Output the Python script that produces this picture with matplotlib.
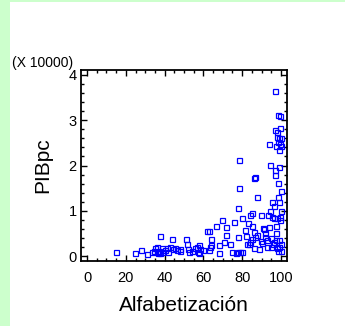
import matplotlib
matplotlib.use('Agg')
import matplotlib.pyplot as plt
from matplotlib.ticker import MultipleLocator
import numpy as np

# Alfabetizacion (%) vs PIB per capita (unidades de 10000)
alfab = [14.7, 24.8, 27.9, 30.7, 33.6, 34.5, 35.0, 35.9, 35.9, 36.6, 37.2, 37.6, 37.8,
         38.8, 38.8, 40.2, 41.0, 41.7, 42.8, 43.8, 44.3, 45.5, 46.2, 47.9, 47.9, 50.9,
         51.7, 51.9, 52.8, 54.0, 55.7, 56.6, 57.4, 57.8, 57.9, 58.3, 60.0, 61.7, 62.8,
         62.9, 63.4, 63.8, 64.0, 66.6, 67.8, 68.1, 69.8, 70.7, 71.7, 71.9, 73.8, 74.8,
         75.9, 76.6, 77.6, 77.8, 77.8, 78.6, 78.6, 79.0, 80.0, 80.0, 81.7, 81.9, 82.6,
         82.8, 83.4, 83.8, 84.1, 84.8, 85.0, 85.2, 85.9, 85.9, 86.0, 86.7, 86.7, 87.6,
         87.8, 88.8, 89.5, 89.5, 90.0, 90.9, 91.0, 91.6, 91.9, 92.8, 93.0, 93.4, 93.6,
         93.9, 94.5, 94.5, 95.0, 95.0, 95.3, 95.5, 95.7, 96.2, 96.6, 96.6, 96.7, 96.9,
         96.9, 96.9, 97.2, 97.2, 97.4, 97.6, 97.8, 97.8, 97.9, 98.1, 98.3, 98.3, 98.4,
         98.6, 98.6, 98.8, 98.8, 98.8, 98.9, 99.1, 99.1, 99.3, 99.3, 99.5, 99.7, 99.7,
         99.8, 99.8, 99.8, 100.0, 100.0, 100.0]
pibpc = [0.08, 0.07, 0.14, 0.04, 0.08, 0.12, 0.17, 0.19, 0.08, 0.06, 0.12, 0.45, 0.06,
         0.17, 0.08, 0.13, 0.18, 0.08, 0.20, 0.37, 0.15, 0.18, 0.14, 0.16, 0.10, 0.37,
         0.26, 0.15, 0.08, 0.12, 0.17, 0.21, 0.08, 0.24, 0.06, 0.16, 0.14, 0.55, 0.55,
         0.13, 0.20, 0.37, 0.24, 0.67, 0.24, 0.06, 0.79, 0.31, 0.64, 0.46, 0.26, 0.08,
         0.76, 0.06, 1.07, 0.42, 0.08, 2.12, 1.51, 0.08, 0.08, 0.83, 0.58, 0.44, 0.26,
         0.74, 0.26, 0.91, 0.31, 0.94, 0.67, 0.38, 1.73, 0.52, 0.17, 1.74, 0.41, 0.47,
         1.30, 0.15, 0.90, 0.34, 0.28, 0.63, 0.59, 0.50, 0.42, 0.21, 0.35, 0.90, 2.48,
         0.65, 0.99, 2.01, 0.39, 0.21, 0.86, 1.20, 0.26, 0.30, 0.85, 1.10, 2.78, 3.65,
         1.90, 1.79, 2.42, 0.66, 0.50, 0.35, 2.64, 0.17, 0.83, 2.75, 2.53, 0.10, 1.31,
         1.61, 3.12, 1.96, 1.20, 2.60, 2.34, 0.35, 0.21, 0.87, 2.48, 3.10, 2.82, 0.80,
         2.42, 1.44, 1.00, 2.60, 0.10, 0.26]

plt.rcParams['font.family'] = ['Liberation Sans', 'DejaVu Sans']

fig = plt.figure(figsize=(3.45, 3.26), dpi=100)
fig.patch.set_facecolor('#ccffcc')
# white panel over the green border
fig.patches.append(plt.Rectangle((9.5/345, 0), 1, 1 - 1.5/326, transform=fig.transFigure,
                                 facecolor='white', edgecolor='none', zorder=-10))

ax = fig.add_axes([81/345, 1 - 261/326, 206/345, 191/326])
ax.set_facecolor('none')
ax.plot(alfab, pibpc, 's', mfc='none', mec='#0000ff', ms=3.6, mew=0.9)
ax.set_xlim(-3.1, 103.1)
ax.set_ylim(-0.11, 4.11)
ax.xaxis.set_major_locator(MultipleLocator(20))
ax.xaxis.set_minor_locator(MultipleLocator(5))
ax.yaxis.set_major_locator(MultipleLocator(1))
ax.yaxis.set_minor_locator(MultipleLocator(0.2))
ax.tick_params(which='both', direction='in', top=True, right=True, width=1.0, colors='black')
ax.tick_params(which='major', length=4, labelsize=10.5)
ax.tick_params(which='minor', length=2)
ax.tick_params(axis='x', pad=7)
ax.tick_params(axis='y', pad=3)
for s in ax.spines.values():
    s.set_linewidth(1.3)

ax.set_xlabel('Alfabetización', fontsize=15, labelpad=8)
ax.set_ylabel('PIBpc', fontsize=15, labelpad=12)
fig.text(11.5/345, 1 - 67/326, '(X 10000)', fontsize=10, ha='left', va='baseline')

fig.savefig('out.png', dpi=100)
